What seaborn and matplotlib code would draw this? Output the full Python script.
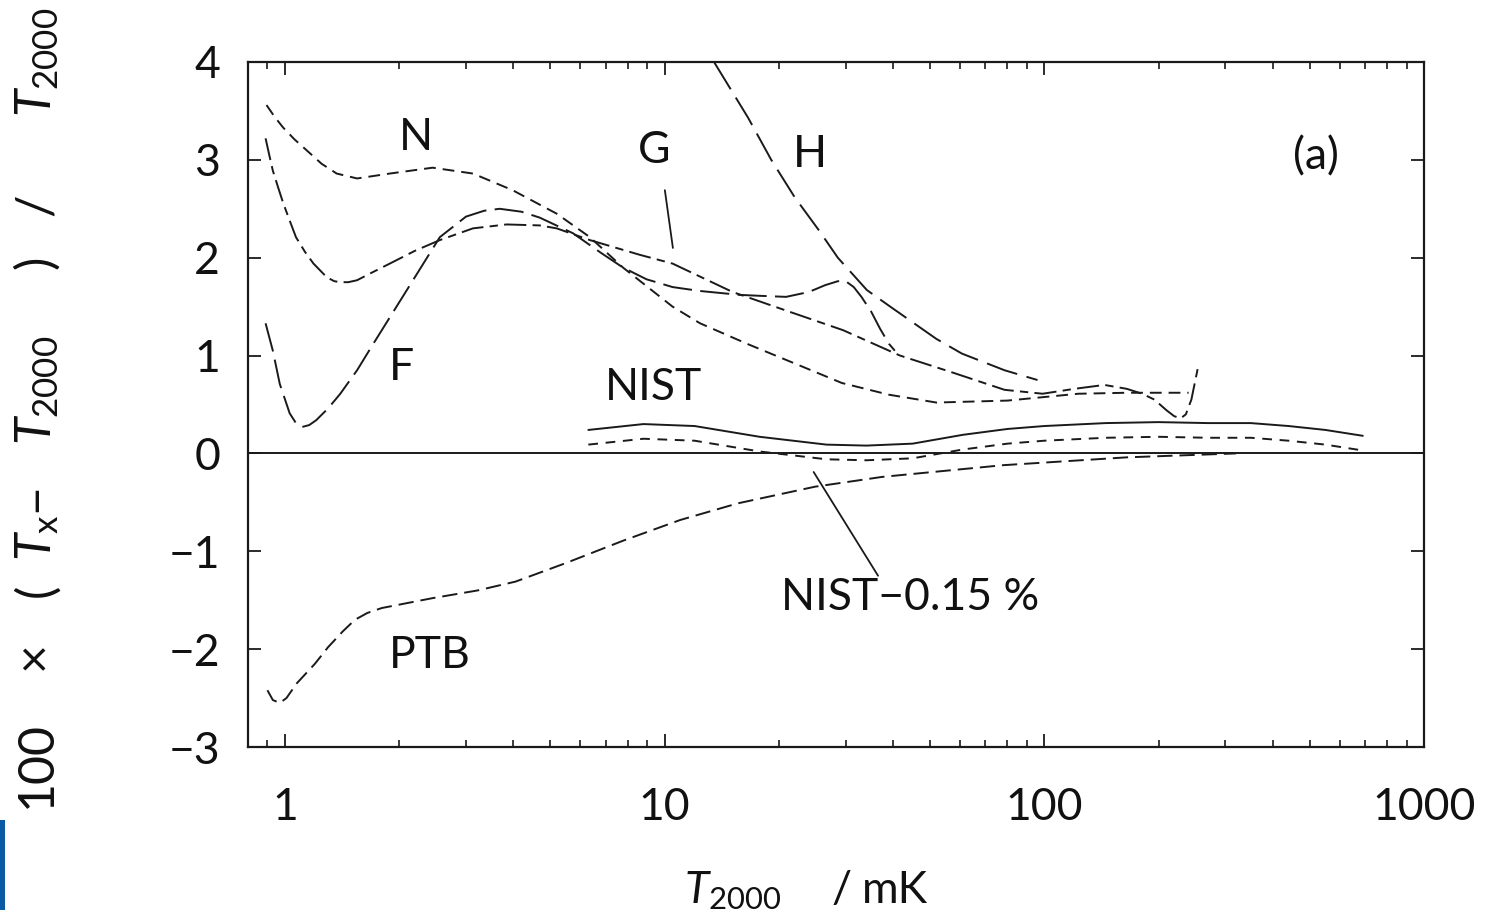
import numpy as np
import pandas as pd
import matplotlib
matplotlib.use('Agg')
import matplotlib.pyplot as plt
from matplotlib.ticker import FixedLocator, LogLocator, NullFormatter
from matplotlib.patches import Rectangle
import seaborn as sns

# values: T2000 in mK vs 100*(Tx-T2000)/T2000
n_x = [0.895, 0.94, 0.99, 1.06, 1.14, 1.25, 1.37, 1.55, 1.89, 2.45, 3.13, 3.98, 5.2, 6.36, 7.77, 10.5, 12.4, 16.5, 22, 29.3, 39, 52, 80, 123, 165, 240]
n_y = [3.56, 3.44, 3.33, 3.21, 3.10, 2.96, 2.86, 2.81, 2.86, 2.92, 2.86, 2.69, 2.45, 2.21, 1.90, 1.50, 1.33, 1.12, 0.92, 0.72, 0.60, 0.52, 0.54, 0.61, 0.62, 0.62]

f_x = [0.89, 0.93, 0.97, 1.03, 1.07, 1.11, 1.16, 1.21, 1.30, 1.40, 1.55, 1.71, 1.89, 2.2, 2.56, 3.0, 3.35, 3.68, 4.2, 4.69, 5.74, 6.8, 7.77, 8.96, 10.5, 12.4, 15.8, 18, 20.9, 24, 26.5, 28.6, 30, 31.5, 33, 35, 37, 39, 40.4]
f_y = [1.33, 1.05, 0.71, 0.41, 0.31, 0.27, 0.29, 0.34, 0.46, 0.61, 0.85, 1.12, 1.39, 1.80, 2.21, 2.42, 2.48, 2.50, 2.47, 2.41, 2.25, 2.05, 1.90, 1.78, 1.70, 1.66, 1.62, 1.61, 1.60, 1.65, 1.72, 1.76, 1.76, 1.70, 1.60, 1.45, 1.27, 1.12, 1.05]

g_x = [0.89, 0.91, 0.93, 0.96, 0.99, 1.03, 1.07, 1.13, 1.19, 1.29, 1.35, 1.40, 1.47, 1.55, 1.70, 1.89, 2.2, 2.56, 3.13, 3.84, 4.69, 5.2, 6.36, 8.6, 10.5, 15.1, 22, 29.5, 41.7, 57, 78.6, 99, 120, 144, 165, 181, 195, 210, 220, 229, 236, 244, 254]
g_y = [3.22, 3.05, 2.89, 2.72, 2.56, 2.38, 2.21, 2.06, 1.94, 1.80, 1.76, 1.75, 1.75, 1.77, 1.85, 1.94, 2.07, 2.18, 2.30, 2.34, 2.33, 2.30, 2.18, 2.03, 1.94, 1.65, 1.43, 1.26, 1.0, 0.83, 0.65, 0.61, 0.66, 0.70, 0.66, 0.61, 0.55, 0.44, 0.38, 0.36, 0.40, 0.55, 0.88]

h_x = [13.5, 16.6, 19.1, 22.0, 25.5, 28.6, 34.1, 39.3, 45.4, 52, 60.7, 78.6, 96]
h_y = [4.0, 3.43, 3.0, 2.62, 2.28, 2.0, 1.67, 1.50, 1.33, 1.17, 1.02, 0.85, 0.75]

nist_x = [6.3, 8.8, 12, 17.8, 26.7, 34, 45, 61, 80, 100, 145, 200, 270, 350, 440, 550, 690]
nist_y = [0.24, 0.30, 0.28, 0.17, 0.09, 0.08, 0.10, 0.19, 0.25, 0.28, 0.31, 0.32, 0.31, 0.31, 0.28, 0.24, 0.18]
nist015_y = [0.09, 0.15, 0.13, 0.02, -0.06, -0.07, -0.05, 0.04, 0.10, 0.13, 0.16, 0.17, 0.16, 0.16, 0.13, 0.09, 0.03]

ptb_x = [0.90, 0.93, 0.97, 1.01, 1.075, 1.2, 1.30, 1.42, 1.53, 1.65, 1.80, 2.44, 3.22, 4.05, 5.5, 7.8, 11.0, 15.6, 24.9, 37.4, 78, 165, 320]
ptb_y = [-2.42, -2.52, -2.55, -2.50, -2.35, -2.15, -1.98, -1.82, -1.70, -1.63, -1.58, -1.48, -1.40, -1.31, -1.12, -0.89, -0.68, -0.51, -0.34, -0.24, -0.12, -0.04, 0.0]

# label pointers
g_ptr_x, g_ptr_y = [10.02, 10.52], [2.69, 2.10]
n015_ptr_x, n015_ptr_y = [24.7, 36.5], [-0.19, -1.25]

labels = ['N', 'G', 'H', '(a)', 'F', 'NIST', 'NIST\u22120.15 %', 'PTB']
label_x = [2.22, 9.37, 24.1, 519, 2.03, 9.37, 44.3, 2.41]
label_y = [3.23, 3.10, 3.05, 3.03, 0.88, 0.67, -1.47, -2.06]

xticks = [1, 10, 100, 1000]
yticks = [-3, -2, -1, 0, 1, 2, 3, 4]

# axis title pieces, spread out like the original
ylab_parts = ['100', r'$\times$', '(', r'$T_{\mathrm{x}}$', '\u2212', r'$T_{2000}$', ')', '/', r'$T_{2000}$']
ylab_pos = [764, 660, 590, 538, 497, 390, 262, 205, 62]
xlab_parts = [r'$T_{2000}$', '/', 'mK']
xlab_pos = [733, 842, 895]

sns.set_theme(style='ticks')
plt.rcParams['font.family'] = ['Lato', 'DejaVu Sans']
plt.rcParams['mathtext.fontset'] = 'custom'
plt.rcParams['mathtext.rm'] = 'Lato'
plt.rcParams['mathtext.it'] = 'Lato:italic'
plt.rcParams['lines.scale_dashes'] = False
ink = '#111111'

fig = plt.figure(figsize=(14.98, 9.23), dpi=100)
ax = fig.add_axes([248/1498, 1-747/923, (1424-248)/1498, (747-62)/923])
ax.set_xscale('log')

curves = [
    (n_x, n_y, (0, (8.5, 5))),
    (f_x, f_y, (0, (21, 6))),
    (g_x, g_y, (0, (16, 4.5, 6, 4.5))),
    (h_x, h_y, (0, (23, 7))),
    (nist_x, nist_y, '-'),
    (nist_x, nist015_y, (0, (7, 5.5))),
    (ptb_x, ptb_y, (0, (11, 5))),
]
for xs, ys, ls in curves:
    df = pd.DataFrame({'T': xs, 'dev': ys})
    sns.lineplot(data=df, x='T', y='dev', ax=ax, color='k', lw=1.4,
                 linestyle=ls, errorbar=None)

ax.axhline(0, color='k', lw=1.4)
ax.plot(g_ptr_x, g_ptr_y, color='k', lw=1.3)
ax.plot(n015_ptr_x, n015_ptr_y, color='k', lw=1.3)

for s, x, y in zip(labels, label_x, label_y):
    ax.text(x, y, s, ha='center', va='center', fontsize=32, color=ink)

ax.set_xlim(0.8, 1000)
ax.set_ylim(-3, 4)
ax.xaxis.set_major_locator(FixedLocator(xticks))
ax.xaxis.set_minor_locator(LogLocator(base=10, subs=np.arange(2, 10), numticks=20))
ax.xaxis.set_minor_formatter(NullFormatter())
ax.set_xticklabels([str(t) for t in xticks])
ax.set_yticks(yticks)
ax.set_yticklabels([str(t).replace('-', '\u2212') for t in yticks])
ax.tick_params(which='both', direction='in', top=True, right=True, color='k')
ax.tick_params(which='major', length=9.5, width=1.3, labelsize=32, labelcolor=ink)
ax.tick_params(axis='x', which='major', pad=29)
ax.tick_params(axis='y', which='major', pad=20)
ax.tick_params(which='minor', length=5, width=1.2)
for sp in ax.spines.values():
    sp.set_linewidth(1.6)
    sp.set_color('k')
ax.set_xlabel('')
ax.set_ylabel('')

for s, p in zip(ylab_parts, ylab_pos):
    fig.text(37/1498, 1-p/923, s, rotation=90, ha='center', va='center',
             fontsize=36, color=ink)
for s, p in zip(xlab_parts, xlab_pos):
    fig.text(p/1498, 1-903/923, s, ha='center', va='baseline',
             fontsize=32, color=ink)

fig.add_artist(Rectangle((0, 1-910/923), 5/1498, 90/923, transform=fig.transFigure,
                         color='#0b5aa6', lw=0))

fig.savefig('out.png', dpi=100)
